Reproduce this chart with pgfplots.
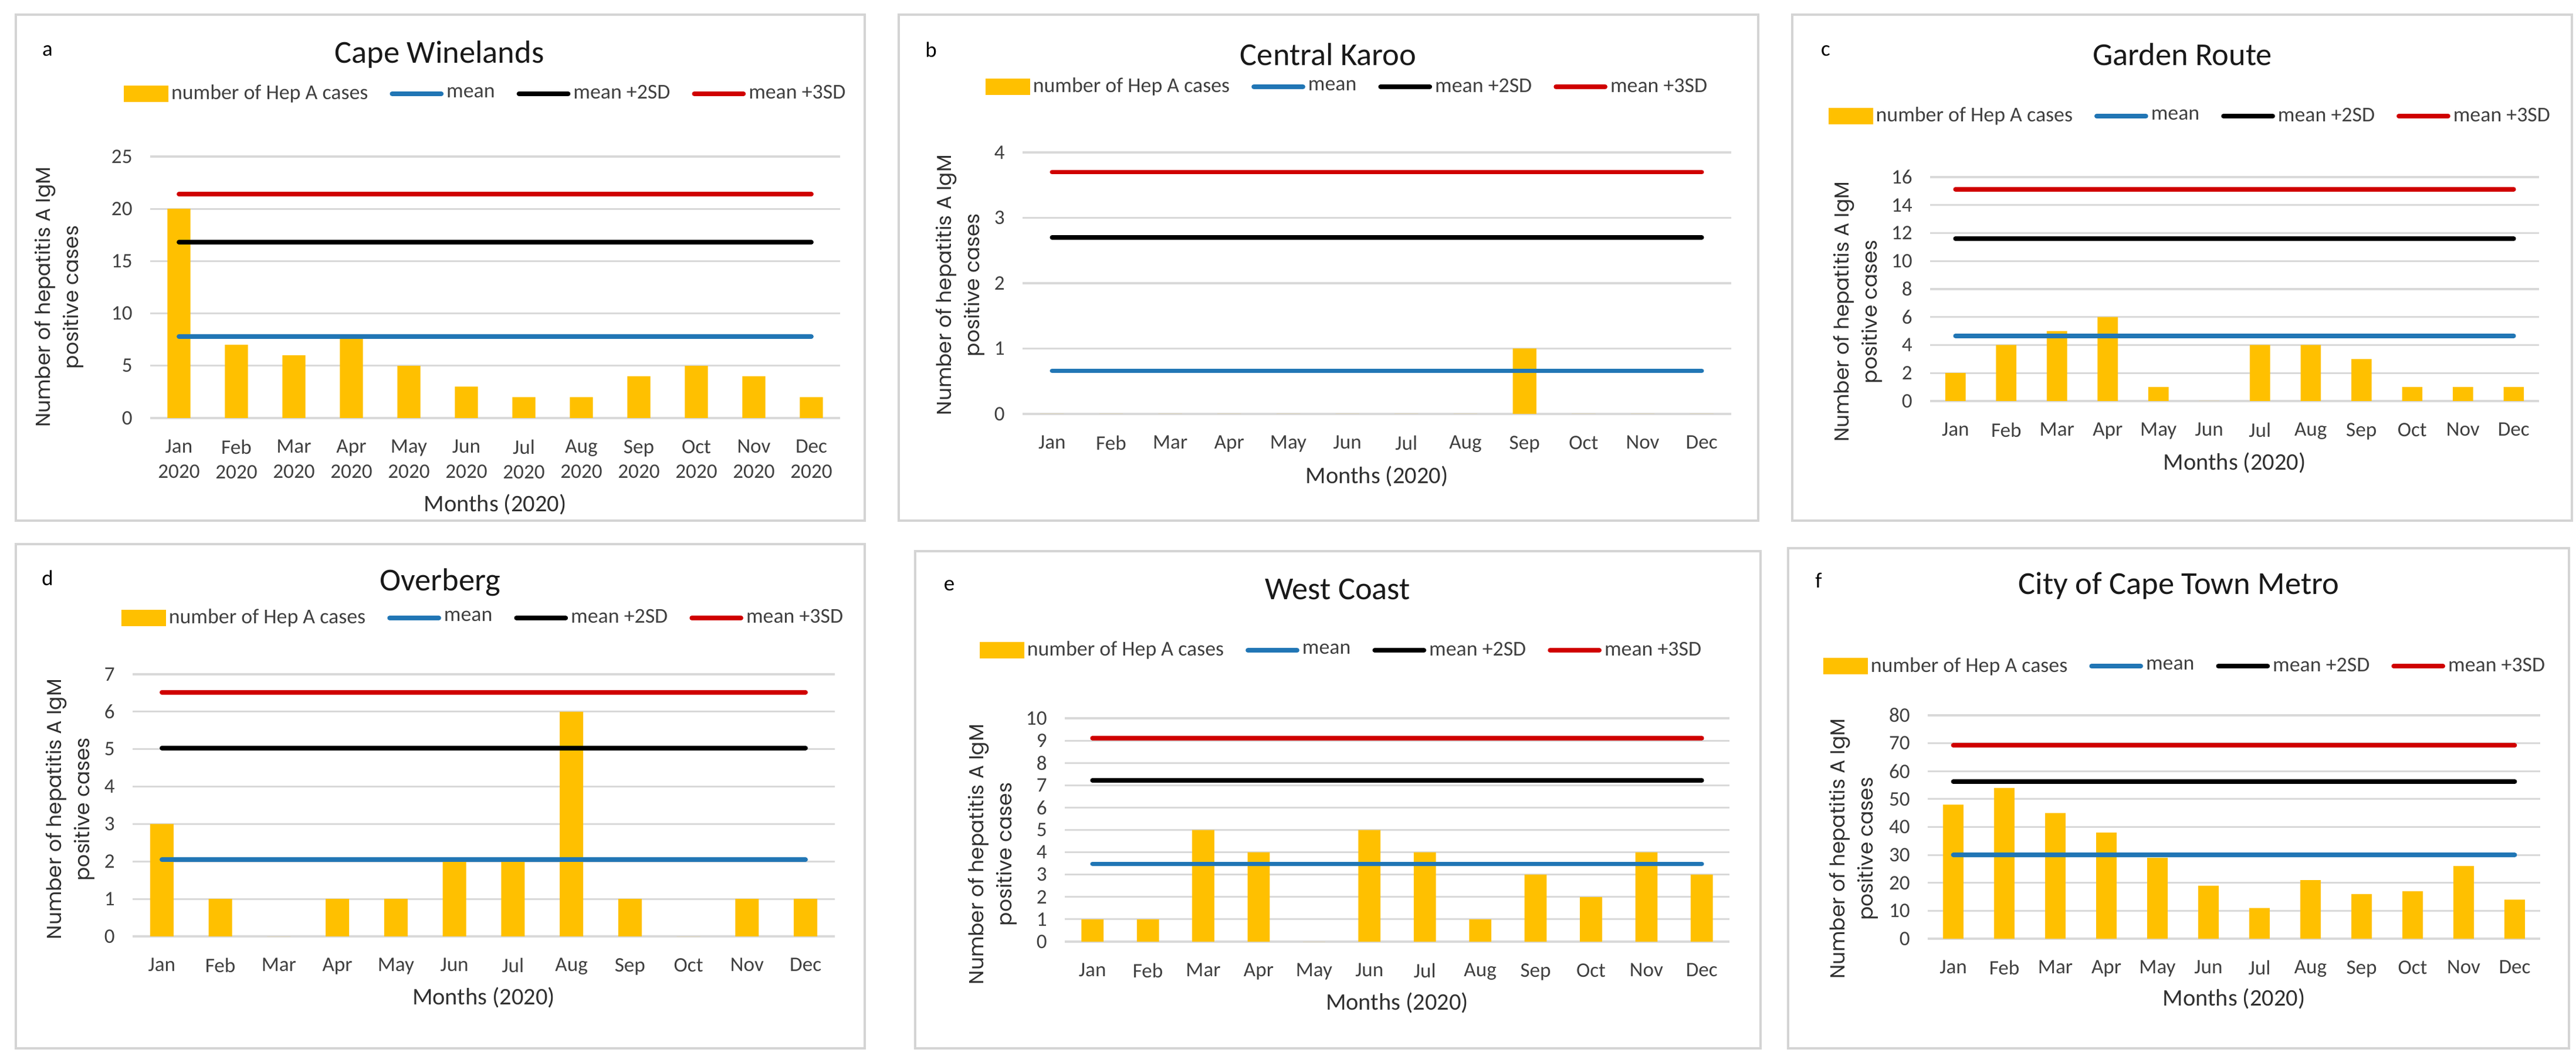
\documentclass[border=0pt]{standalone}
\usepackage{fontspec}
\setmainfont{Carlito}
\newfontfamily\ylabfont{Poppins}
\usepackage{pgfplots}
\pgfplotsset{compat=1.18}
\definecolor{bargold}{HTML}{FFC000}
\definecolor{meanblue}{HTML}{2176B5}
\definecolor{sdred}{HTML}{D00000}
\definecolor{gridgray}{HTML}{D9D9D9}
\definecolor{boxgray}{HTML}{D4D4D4}
\definecolor{ticktext}{HTML}{404040}
\definecolor{labeltext}{HTML}{303030}
\pgfplotsset{
  panel/.style={
    scale only axis, anchor=south west,
    xmin=-0.5, xmax=11.5, ymin=0,
    xtick={0,...,11},
    xticklabels={Jan,Feb,Mar,Apr,May,Jun,Jul,Aug,Sep,Oct,Nov,Dec},
    axis line style={draw=none},
    major tick length=0pt,
    ymajorgrids, grid style={draw=gridgray, line width=0.9pt},
    tick label style={font=\fontsize{10}{12}\selectfont, text=ticktext},
    /pgf/number format/assume math mode=true,
    xticklabel style={yshift=-0.25cm, align=center},
    yticklabel style={xshift=-0.18cm},
    xlabel={Months (2020)},
    xlabel style={font=\fontsize{11.5}{13}\selectfont, text=labeltext, anchor=center},
    ylabel={Number of hepatitis A IgM\\positive cases},
    ylabel style={font=\ylabfont\fontsize{9.8}{13.6}\selectfont, align=center, anchor=center, text=labeltext},
    legend columns=4,
    legend cell align=left,
    legend style={draw=none, fill=none, anchor=center,
      font=\fontsize{10.2}{12}\selectfont, text=ticktext,
      /tikz/every even column/.append style={column sep=0.32cm},
      nodes={inner sep=0.05cm}},
  },
  barsty/.style={ybar, bar width=0.4, fill=bargold, draw=none,
    legend image code/.code={\fill[bargold] (0cm,-0.14cm) rectangle (0.76cm,0.14cm);}},
  linesty/.style={color=#1, line width=2.2pt, line cap=round, mark=none,
    legend image code/.code={\draw[color=#1, line width=2.2pt, line cap=round] (0cm,0cm) -- (0.84cm,0cm);}},
}
\begin{document}
\begin{tikzpicture}
% panel boxes
\draw[boxgray, line width=1.1pt] (0.27,17.87) rectangle (14.74,9.24);
\draw[boxgray, line width=1.1pt] (15.32,17.87) rectangle (29.97,9.24);
\draw[boxgray, line width=1.1pt] (30.55,17.87) rectangle (43.84,9.24);
\draw[boxgray, line width=1.1pt] (0.27,8.84) rectangle (14.74,0.24);
\draw[boxgray, line width=1.1pt] (15.60,8.72) rectangle (30.01,0.24);
\draw[boxgray, line width=1.1pt] (30.48,8.77) rectangle (43.79,0.24);
% letters
\begin{scope}[every node/.style={font=\fontsize{10.5}{12}\selectfont, text=black}]
\node at (0.81,17.25) {a};
\node at (15.87,17.27) {b};
\node at (31.12,17.25) {c};
\node at (0.81,8.26) {d};
\node at (16.18,8.13) {e};
\node at (31.00,8.22) {f};
\end{scope}
% titles
\begin{scope}[every node/.style={font=\fontsize{15.5}{18}\selectfont, text=black!90}]
\node at (7.49,17.19) {Cape Winelands};
\node at (22.64,17.19) {Central Karoo};
\node at (37.20,17.19) {Garden Route};
\node at (7.50,8.19) {Overberg};
\node at (22.80,8.07) {West Coast};
\node at (37.14,8.13) {City of Cape Town Metro};
\end{scope}

% a Cape Winelands
\begin{axis}[panel, at={(2.56cm,10.99cm)}, width=11.76cm, height=4.46cm,
  ymax=25, ytick={0,5,...,25},
  xticklabels={{Jan\\2020},{Feb\\2020},{Mar\\2020},{Apr\\2020},{May\\2020},{Jun\\2020},{Jul\\2020},{Aug\\2020},{Sep\\2020},{Oct\\2020},{Nov\\2020},{Dec\\2020}},
  legend style={at={(0.487,1.240)}},
  xlabel style={at={(axis description cs:0.5,-0.330)}},
  ylabel style={at={(axis description cs:-0.132,0.462)}}]
\addplot[barsty] coordinates {(0,20) (1,7) (2,6) (3,8) (4,5) (5,3) (6,2) (7,2) (8,4) (9,5) (10,4) (11,2)};
\addplot[linesty=meanblue] coordinates {(0,7.8) (11,7.8)};
\addplot[linesty=black] coordinates {(0,16.8) (11,16.8)};
\addplot[linesty=sdred] coordinates {(0,21.4) (11,21.4)};
\legend{number of Hep A cases, mean, mean +2SD, mean +3SD}
\end{axis}

% b Central Karoo
\begin{axis}[panel, at={(17.43cm,11.06cm)}, width=12.08cm, height=4.46cm,
  ymax=4, ytick={0,1,...,4},
  legend style={at={(0.459,1.251)}},
  xlabel style={at={(axis description cs:0.5,-0.238)}},
  ylabel style={at={(axis description cs:-0.0877,0.493)}}]
\addplot[barsty] coordinates {(0,0) (1,0) (2,0) (3,0) (4,0) (5,0) (6,0) (7,0) (8,1) (9,0) (10,0) (11,0)};
\addplot[linesty=meanblue] coordinates {(0,0.66) (11,0.66)};
\addplot[linesty=black] coordinates {(0,2.70) (11,2.70)};
\addplot[linesty=sdred] coordinates {(0,3.70) (11,3.70)};
\legend{number of Hep A cases, mean, mean +2SD, mean +3SD}
\end{axis}

% c Garden Route
\begin{axis}[panel, at={(32.90cm,11.28cm)}, width=10.38cm, height=3.82cm,
  ymax=16, ytick={0,2,...,16},
  legend style={at={(0.428,1.272)}},
  xlabel style={at={(axis description cs:0.5,-0.275)}},
  ylabel style={at={(axis description cs:-0.119,0.398)}}]
\addplot[barsty] coordinates {(0,2) (1,4) (2,5) (3,6) (4,1) (5,0) (6,4) (7,4) (8,3) (9,1) (10,1) (11,1)};
\addplot[linesty=meanblue] coordinates {(0,4.66) (11,4.66)};
\addplot[linesty=black] coordinates {(0,11.6) (11,11.6)};
\addplot[linesty=sdred] coordinates {(0,15.13) (11,15.13)};
\legend{number of Hep A cases, mean, mean +2SD, mean +3SD}
\end{axis}

% d Overberg
\begin{axis}[panel, at={(2.26cm,2.15cm)}, width=11.97cm, height=4.47cm,
  ymax=7, ytick={0,1,...,7},
  legend style={at={(0.500,1.215)}},
  xlabel style={at={(axis description cs:0.5,-0.233)}},
  ylabel style={at={(axis description cs:-0.0886,0.485)}}]
\addplot[barsty] coordinates {(0,3) (1,1) (2,0) (3,1) (4,1) (5,2) (6,2) (7,6) (8,1) (9,0) (10,1) (11,1)};
\addplot[linesty=meanblue] coordinates {(0,2.05) (11,2.05)};
\addplot[linesty=black] coordinates {(0,5.03) (11,5.03)};
\addplot[linesty=sdred] coordinates {(0,6.52) (11,6.52)};
\legend{number of Hep A cases, mean, mean +2SD, mean +3SD}
\end{axis}

% e West Coast
\begin{axis}[panel, at={(18.15cm,2.06cm)}, width=11.33cm, height=3.81cm,
  ymax=10, ytick={0,1,...,10},
  legend style={at={(0.417,1.304)}},
  xlabel style={at={(axis description cs:0.5,-0.273)}},
  ylabel style={at={(axis description cs:-0.109,0.391)}}]
\addplot[barsty] coordinates {(0,1) (1,1) (2,5) (3,4) (4,0) (5,5) (6,4) (7,1) (8,3) (9,2) (10,4) (11,3)};
\addplot[linesty=meanblue] coordinates {(0,3.48) (11,3.48)};
\addplot[linesty=black] coordinates {(0,7.22) (11,7.22)};
\addplot[linesty=sdred] coordinates {(0,9.11) (11,9.11)};
\legend{number of Hep A cases, mean, mean +2SD, mean +3SD}
\end{axis}

% f City of Cape Town Metro
\begin{axis}[panel, at={(32.86cm,2.11cm)}, width=10.44cm, height=3.81cm,
  ymax=80, ytick={0,10,...,80},
  legend style={at={(0.421,1.220)}},
  xlabel style={at={(axis description cs:0.5,-0.270)}},
  ylabel style={at={(axis description cs:-0.121,0.402)}}]
\addplot[barsty] coordinates {(0,48) (1,54) (2,45) (3,38) (4,29) (5,19) (6,11) (7,21) (8,16) (9,17) (10,26) (11,14)};
\addplot[linesty=meanblue] coordinates {(0,30.0) (11,30.0)};
\addplot[linesty=black] coordinates {(0,56.25) (11,56.25)};
\addplot[linesty=sdred] coordinates {(0,69.25) (11,69.25)};
\legend{number of Hep A cases, mean, mean +2SD, mean +3SD}
\end{axis}

\pgfresetboundingbox
\path (0,0) rectangle (43.91,18.12);
\end{tikzpicture}
\end{document}
